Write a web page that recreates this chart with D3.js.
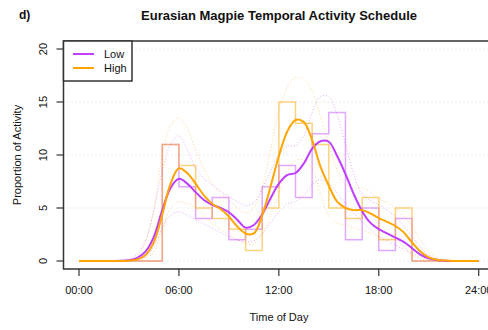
<!DOCTYPE html>
<html>
<head>
<meta charset="utf-8">
<script src="https://cdn.jsdelivr.net/npm/d3@7"></script>
<style>
  body { margin: 0; background: #fff; }
  text { font-family: "Liberation Sans", Arial, sans-serif; fill: #111; }
</style>
</head>
<body>
<svg width="488" height="330"></svg>
<script>
// sampling times (hours) for the smoothed curves
var hours = [0,0.5,1,1.5,2,2.5,3,3.5,4,4.5,5,5.5,6,6.5,7,7.5,8,8.5,9,9.5,10,10.5,11,11.5,
             12,12.5,13,13.5,14,14.5,15,15.5,16,16.5,17,17.5,18,18.5,19,19.5,20,20.5,21,21.5,
             22,22.5,23,23.5,24];

// smoothed activity, "Low" group (purple)
var lowMean  = [0,0,0,0,0,0.02,0.08,0.3,0.9,2.3,4.8,6.9,7.75,7.3,6.5,5.75,5.3,5.0,4.6,3.9,
                3.15,3.4,4.4,5.9,7.3,8.1,8.3,9.2,10.6,11.3,11.25,9.9,8.2,6.3,4.7,3.6,3.0,2.6,2.2,1.8,
                1.2,0.6,0.25,0.1,0.03,0,0,0,0];
var lowUpper = [0,0,0,0,0,0.05,0.2,0.7,2.0,4.8,8.5,11.0,11.8,10.5,8.75,7.8,7.2,6.6,6.1,5.6,
                5.2,5.5,6.8,8.5,10.0,10.8,10.9,11.8,14.0,15.5,15.5,13.8,11.0,8.2,6.3,5.7,5.3,4.8,4.2,3.3,
                2.3,1.3,0.57,0.2,0.05,0,0,0,0];
var lowLower = [0,0,0,0,0,0,0.02,0.1,0.4,1.4,3.1,4.3,4.65,4.3,3.9,3.5,3.1,2.7,2.3,2.0,
                1.8,1.9,2.6,3.6,4.6,5.4,5.6,6.2,7.2,7.7,7.3,6.4,5.4,4.5,3.7,3.0,2.3,1.9,1.5,1.1,
                0.73,0.4,0.15,0.05,0,0,0,0,0];

// smoothed activity, "High" group (orange)
var highMean  = [0,0,0,0,0,0,0.03,0.15,0.57,1.8,4.4,7.3,8.75,8.3,7.3,6.2,5.4,4.9,4.2,3.25,
                 2.6,2.6,4.3,7.0,9.9,12.2,13.3,13.1,11.4,8.9,7.1,5.6,5.0,4.8,4.8,4.5,4.05,3.7,3.3,2.7,
                 1.75,0.9,0.35,0.12,0.04,0,0,0,0];
var highUpper = [0,0,0,0,0,0,0.1,0.5,1.8,5.0,10.0,12.8,13.5,12.5,10.5,8.7,7.3,6.4,5.75,5.0,
                 4.5,5.0,7.0,10.5,14.2,16.3,17.3,17.2,16.0,13.6,11.1,8.6,7.2,6.9,6.9,6.5,5.9,5.5,5.0,4.2,
                 3.25,2.0,0.9,0.35,0.1,0.03,0,0,0];
var highLower = [0,0,0,0,0,0,0,0.05,0.2,0.9,3.0,5.0,5.6,5.4,5.0,4.3,3.55,3.0,2.45,2.0,
                 1.67,1.6,2.5,4.3,6.4,8.5,9.5,9.5,8.7,6.4,4.3,3.6,3.4,3.1,2.9,2.6,2.3,2.1,2.0,1.4,
                 0.57,0.2,0.06,0,0,0,0,0,0];

// hourly histograms (start hour of each bin)
var binHours = [0,1,2,3,4,5,6,7,8,9,10,11,12,13,14,15,16,17,18,19,20,21,22,23];
var lowHist  = [0,0,0,0,0,11,7,4,6,2,3,7,9,6,12,14,2,5,1,4,0,0,0,0];
var highHist = [0,0,0,0,0,11,9,5,4,3,1,5,15,13,11,5,4,6,2,5,0,0,0,0];

var xTicks = [0, 6, 12, 18, 24],
    xTickLabels = ["00:00", "06:00", "12:00", "18:00", "24:00"],
    yTicks = [0, 5, 10, 15, 20];

var purple = "#BF3EFF", orange = "#FFA500";

var svg = d3.select("svg");

var x = d3.scaleLinear().domain([0, 24]).range([79, 478.7]),
    y = d3.scaleLinear().domain([0, 20]).range([261, 49]);

var box = {left: 63.5, top: 41, right: 496, bottom: 269};

// light dotted grid
svg.append("g").selectAll("line")
    .data(yTicks)
  .enter().append("line")
    .attr("x1", box.left).attr("x2", box.right)
    .attr("y1", function(d) { return y(d); })
    .attr("y2", function(d) { return y(d); })
    .attr("stroke", "#d9d9d9")
    .attr("stroke-dasharray", "1,3");

// histogram outlines as steps
var step = d3.line()
    .curve(d3.curveStepAfter)
    .x(function(d) { return x(d[0]); })
    .y(function(d) { return y(d[1]); });

function stepPts(vals) {
  var pts = binHours.map(function(h, i) { return [h, vals[i]]; });
  pts.push([24, vals[vals.length - 1]]);
  return pts;
}

svg.append("path").attr("d", step(stepPts(lowHist)))
    .attr("fill", "none").attr("stroke", purple).attr("stroke-opacity", 0.45).attr("stroke-width", 1.5);
svg.append("path").attr("d", step(stepPts(highHist)))
    .attr("fill", "none").attr("stroke", orange).attr("stroke-opacity", 0.5).attr("stroke-width", 1.5);

var smooth = d3.line()
    .curve(d3.curveCatmullRom.alpha(0.5))
    .x(function(d, i) { return x(hours[i]); })
    .y(function(d) { return y(d); });

// confidence bands (dotted)
[[lowUpper, purple], [lowLower, purple], [highUpper, orange], [highLower, orange]].forEach(function(s) {
  svg.append("path").attr("d", smooth(s[0]))
      .attr("fill", "none")
      .attr("stroke", s[1])
      .attr("stroke-opacity", 0.45)
      .attr("stroke-width", 1)
      .attr("stroke-dasharray", "1,2");
});

// mean curves
svg.append("path").attr("d", smooth(lowMean))
    .attr("fill", "none").attr("stroke", purple).attr("stroke-width", 2);
svg.append("path").attr("d", smooth(highMean))
    .attr("fill", "none").attr("stroke", orange).attr("stroke-width", 2);

// frame
svg.append("rect")
    .attr("x", box.left).attr("y", box.top)
    .attr("width", box.right - box.left).attr("height", box.bottom - box.top)
    .attr("fill", "none").attr("stroke", "#333").attr("stroke-width", 1.5);

// x axis
var xAxis = svg.append("g");
xAxis.selectAll("line").data(xTicks).enter().append("line")
    .attr("x1", function(d) { return x(d); }).attr("x2", function(d) { return x(d); })
    .attr("y1", box.bottom).attr("y2", box.bottom + 7)
    .attr("stroke", "#333").attr("stroke-width", 1.2);
xAxis.selectAll("text").data(xTicks).enter().append("text")
    .attr("x", function(d) { return x(d); })
    .attr("y", 294)
    .attr("text-anchor", "middle")
    .attr("font-size", "11px")
    .text(function(d, i) { return xTickLabels[i]; });

// y axis
var yAxis = svg.append("g");
yAxis.selectAll("line").data(yTicks).enter().append("line")
    .attr("x1", box.left - 7).attr("x2", box.left)
    .attr("y1", function(d) { return y(d); }).attr("y2", function(d) { return y(d); })
    .attr("stroke", "#333").attr("stroke-width", 1.2);
yAxis.selectAll("text").data(yTicks).enter().append("text")
    .attr("transform", function(d) { return "translate(43," + y(d) + ") rotate(-90)"; })
    .attr("dy", "0.35em")
    .attr("text-anchor", "middle")
    .attr("font-size", "11px")
    .text(function(d) { return d; });

// axis titles
svg.append("text")
    .attr("x", 279).attr("y", 321)
    .attr("text-anchor", "middle")
    .attr("font-size", "11px")
    .text("Time of Day");

svg.append("text")
    .attr("transform", "translate(17,155) rotate(-90)")
    .attr("dy", "0.35em")
    .attr("text-anchor", "middle")
    .attr("font-size", "11px")
    .text("Proportion of Activity");

// title and panel letter
svg.append("text")
    .attr("x", 279).attr("y", 20)
    .attr("text-anchor", "middle")
    .attr("font-size", "13px")
    .attr("font-weight", "bold")
    .text("Eurasian Magpie Temporal Activity Schedule");

svg.append("text")
    .attr("x", 19).attr("y", 19)
    .attr("font-size", "12px")
    .attr("font-weight", "bold")
    .text("d)");

// legend
var legend = svg.append("g");
legend.append("rect")
    .attr("x", box.left).attr("y", box.top)
    .attr("width", 68.5).attr("height", 40)
    .attr("fill", "#fff").attr("stroke", "#333").attr("stroke-width", 1.5);
[["Low", purple], ["High", orange]].forEach(function(d, i) {
  var ly = 54 + i * 14;
  legend.append("line")
      .attr("x1", 73).attr("x2", 94)
      .attr("y1", ly).attr("y2", ly)
      .attr("stroke", d[1]).attr("stroke-width", 2);
  legend.append("text")
      .attr("x", 104).attr("y", ly)
      .attr("dy", "0.35em")
      .attr("font-size", "11px")
      .text(d[0]);
});
</script>
</body>
</html>
